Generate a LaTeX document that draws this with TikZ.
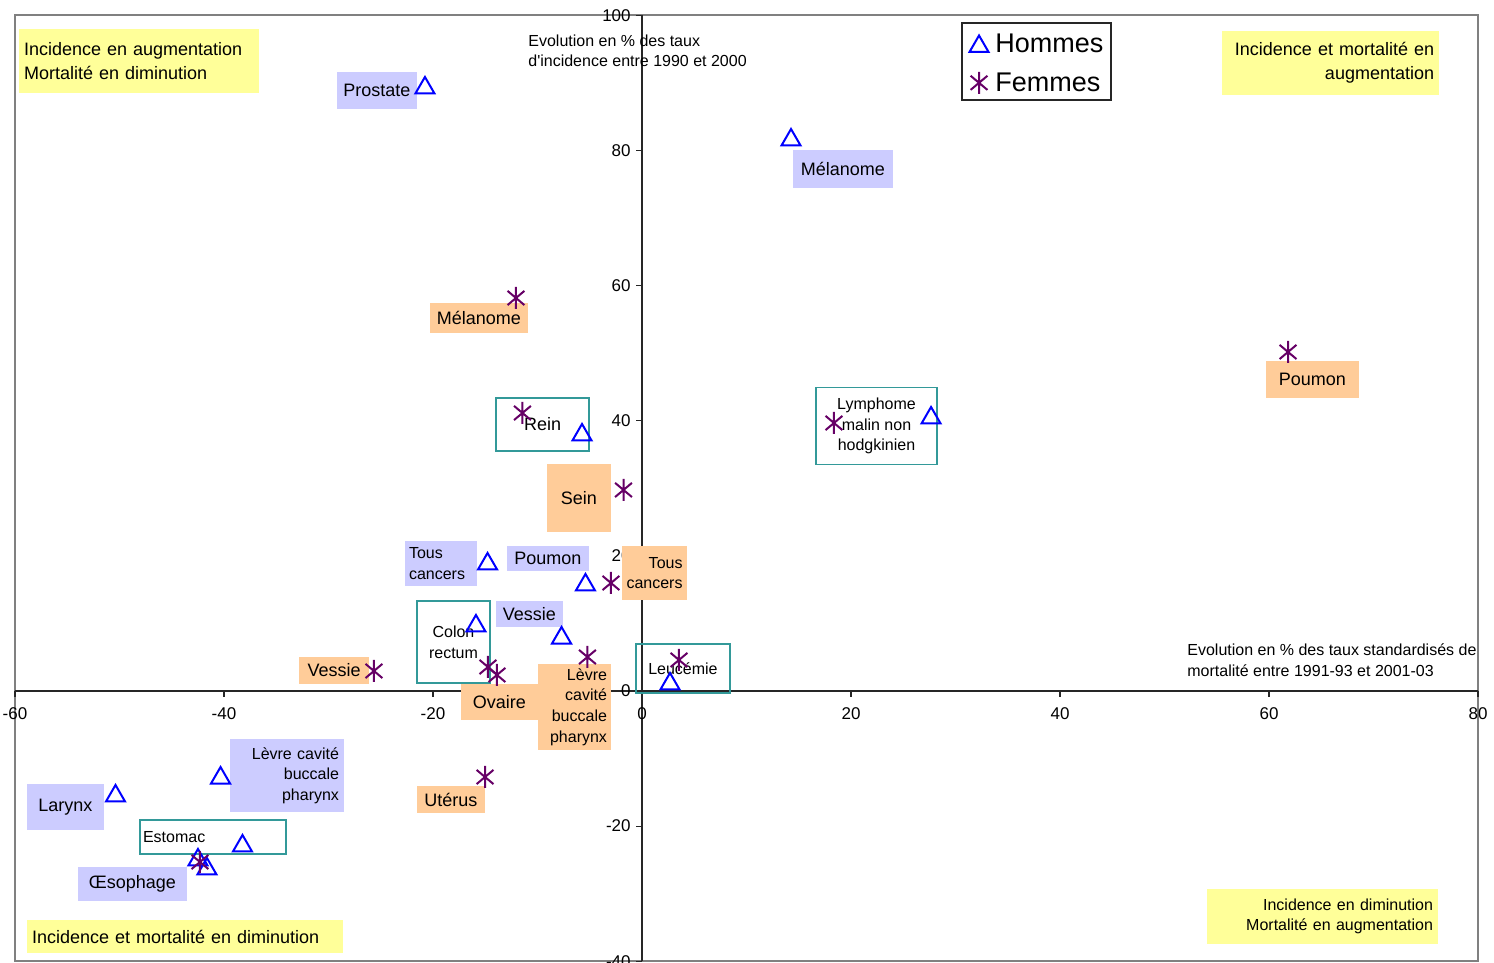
\documentclass[tikz,border=0pt]{standalone}
\usepackage{fontspec}
\setmainfont{Liberation Sans}
\usetikzlibrary{shapes.geometric}
\definecolor{hblue}{RGB}{0,0,255}
\definecolor{fpurple}{RGB}{102,0,102}
\definecolor{hbox}{RGB}{204,204,255}
\definecolor{fbox}{RGB}{255,204,153}
\definecolor{ybox}{RGB}{255,255,153}
\definecolor{tealbox}{RGB}{51,153,153}
\begin{document}
\begin{tikzpicture}[x=5.225pt, y=3.3785pt,
  homme/.style={regular polygon, regular polygon sides=3, draw=hblue,
    line width=1pt, minimum size=11pt, inner sep=0pt},
  femme/.style={minimum size=11pt, inner sep=0pt,
    path picture={\draw[fpurple, line width=1pt]
      ([yshift=5.5pt]path picture bounding box.center) -- ([yshift=-5.5pt]path picture bounding box.center)
      ([shift={(40:5.5pt)}]path picture bounding box.center) -- ([shift={(220:5.5pt)}]path picture bounding box.center)
      ([shift={(140:5.5pt)}]path picture bounding box.center) -- ([shift={(-40:5.5pt)}]path picture bounding box.center);}},
  lab/.style={font=\fontsize{9}{12}\selectfont, inner sep=0pt},
  small/.style={font=\fontsize{8}{10.3}\selectfont},
  tick/.style={font=\fontsize{8.5}{10}\selectfont, inner sep=0pt},
  hlab/.style={lab, fill=hbox},
  flab/.style={lab, fill=fbox},
  qlab/.style={lab, fill=ybox},
  tlab/.style={lab, draw=tealbox, line width=0.6pt}]
  \useasboundingbox (-61.435,-40.25) rectangle (81.53,102.26);
  \draw[gray, line width=1pt] (-60,-40) rectangle (80,100);
  \draw[black!85, line width=0.6pt] (-60,0) -- (80,0);
  \draw[black!85, line width=0.6pt] (0,-40) -- (0,100);
  \foreach \x in {-60,-40,...,80} {
    \draw[black!85, line width=0.6pt] (\x,0) -- ++(0,-3pt);
    \node[tick] at (\x,-3.4) {\x};
  }
  \foreach \y in {-40,-20,...,100} {
    \draw[black!85, line width=0.6pt] (0,\y) -- ++(-3pt,0);
    \node[tick, anchor=east] at (-1.05,\y) {\y};
  }
  \node[small, align=left, anchor=west, inner sep=0pt] (capY) at (-10.91,94.72)
    {Evolution en \% des taux\\d\textquotesingle incidence entre 1990 et 2000};
  \node[small, align=left, anchor=west, inner sep=0pt] (capX) at (52.15,4.59)
    {Evolution en \% des taux standardisés de\\mortalité entre 1991-93 et 2001-03};

  \node[qlab, align=left, text width=115pt, inner xsep=2.5pt, minimum height=32pt] (qTL) at (-48.13,93.24)
    {Incidence en augmentation\\Mortalité en diminution};
  \node[qlab, align=right, text width=103.5pt, inner xsep=2.5pt, minimum height=32pt] (qTR) at (65.89,92.9)
    {Incidence et mortalité en\\augmentation};
  \node[qlab, small, align=right, text width=110.5pt, inner xsep=2.5pt, minimum height=27.5pt] (qBR) at (65.12,-33.37)
    {Incidence en diminution\\Mortalité en augmentation};
  \node[qlab, align=left, text width=153pt, inner xsep=2.5pt, minimum height=16.5pt] (qBL) at (-43.73,-36.33)
    {Incidence et mortalité en diminution};

  \node[hlab, minimum width=40pt, minimum height=18.5pt] (lhProstate) at (-25.36,88.87) {Prostate};
  \node[hlab, minimum width=50pt, minimum height=19pt] (lhMelanome) at (19.23,77.25) {Mélanome};
  \node[hlab, small, align=left, text width=32pt, inner xsep=2pt, minimum height=22.5pt] (lhTous) at (-19.23,18.87) {Tous\\cancers};
  \node[hlab, minimum width=41pt, minimum height=12.5pt] (lhPoumon) at (-9.0,19.61) {Poumon};
  \node[hlab, minimum width=33.5pt, minimum height=13pt] (lhVessie) at (-10.77,11.40) {Vessie};
  \node[hlab, small, align=right, text width=52pt, inner xsep=2.5pt, minimum height=36.5pt] (lhLevre) at (-33.97,-12.51) {Lèvre cavité\\buccale\\pharynx};
  \node[hlab, minimum width=38.5pt, minimum height=23pt] (lhLarynx) at (-55.17,-17.17) {Larynx};
  \node[hlab, minimum width=54.5pt, minimum height=17pt] (lhOesophage) at (-48.76,-28.56) {Œsophage};

  \node[flab, minimum width=49pt, minimum height=15pt] (lfMelanome) at (-15.60,55.20) {Mélanome};
  \node[flab, minimum width=46.5pt, minimum height=18.5pt] (lfPoumon) at (64.16,46.10) {Poumon};
  \node[flab, minimum width=32pt, minimum height=34pt] (lfSein) at (-6.03,28.56) {Sein};
  \node[flab, small, align=right, text width=28pt, inner xsep=2.25pt, minimum height=27pt] (lfTous) at (1.20,17.46) {Tous\\cancers};
  \node[flab, minimum width=35pt, minimum height=13.5pt] (lfVessie) at (-29.47,3.03) {Vessie};
  \node[flab, minimum width=38.5pt, minimum height=18pt] (lfOvaire) at (-13.64,-1.63) {Ovaire};
  \node[flab, small, align=right, text width=32.5pt, inner xsep=2pt, minimum height=43pt] (lfLevre) at (-6.46,-2.37) {Lèvre\\cavité\\buccale\\pharynx};
  \node[flab, minimum width=34pt, minimum height=13.5pt] (lfUterus) at (-18.28,-16.06) {Utérus};

  \node[tlab, minimum width=46.5pt, minimum height=26.5pt] (lRein) at (-9.52,39.44) {Rein};
  \node[tlab, small, align=center, minimum width=60.5pt, minimum height=38.5pt] (lLymphome) at (22.44,39.2) {Lymphome\\malin non\\hodgkinien};
  \node[tlab, small, align=center, minimum width=36.5pt, minimum height=41pt] (lColon) at (-18.04,7.25) {Colon\\rectum};
  \node[tlab, small, minimum width=47pt, minimum height=24.5pt] (lLeucemie) at (3.92,3.33) {Leucémie};
  \node[tlab, small, align=left, text width=70pt, inner xsep=1.5pt, minimum height=17pt] (lEstomac) at (-41.05,-21.61) {Estomac};

  \node[draw=black!85, line width=0.6pt, minimum width=74.5pt, minimum height=38.5pt, inner sep=0pt] (legend) at (37.75,93.17) {};
  \node[homme] (legH) at (32.25,95.38) {};
  \node[lab, font=\fontsize{13.5}{16}\selectfont, anchor=west] (legHtxt) at (33.78,95.9) {Hommes};
  \node[femme] (legF) at (32.25,90.0) {};
  \node[lab, font=\fontsize{13.5}{16}\selectfont, anchor=west] (legFtxt) at (33.78,90.05) {Femmes};

  \node[homme] (hProstate) at (-20.77,89.24) {};
  \node[homme] (hMelanome) at (14.26,81.54) {};
  \node[homme] (hRein) at (-5.74,37.89) {};
  \node[homme] (hLymphome) at (27.66,40.40) {};
  \node[homme] (hTous) at (-14.78,18.80) {};
  \node[homme] (hPoumon) at (-5.41,15.69) {};
  \node[homme] (hColon) at (-15.89,9.62) {};
  \node[homme] (hVessie) at (-7.70,7.84) {};
  \node[homme] (hLeucemie) at (2.68,1.04) {};
  \node[homme] (hLarynx) at (-50.38,-15.54) {};
  \node[homme] (hLevre) at (-40.33,-12.88) {};
  \node[homme] (hEstomac) at (-38.23,-22.94) {};
  \node[homme] (hOesophageA) at (-42.49,-25.01) {};
  \node[homme] (hOesophageB) at (-41.63,-26.34) {};

  \node[femme] (fMelanome) at (-12.06,58.16) {};
  \node[femme] (fPoumon) at (61.82,50.17) {};
  \node[femme] (fRein) at (-11.44,41.14) {};
  \node[femme] (fLymphome) at (18.37,39.66) {};
  \node[femme] (fSein) at (-1.77,29.75) {};
  \node[femme] (fTous) at (-2.97,15.98) {};
  \node[femme] (fLevre) at (-5.22,5.03) {};
  \node[femme] (fLeucemie) at (3.54,4.59) {};
  \node[femme] (fColon) at (-14.74,3.55) {};
  \node[femme] (fOvaire) at (-13.88,2.37) {};
  \node[femme] (fVessie) at (-25.65,2.96) {};
  \node[femme] (fUterus) at (-15.02,-12.73) {};
  \node[femme] (fOesophage) at (-42.30,-25.31) {};
\end{tikzpicture}
\end{document}
